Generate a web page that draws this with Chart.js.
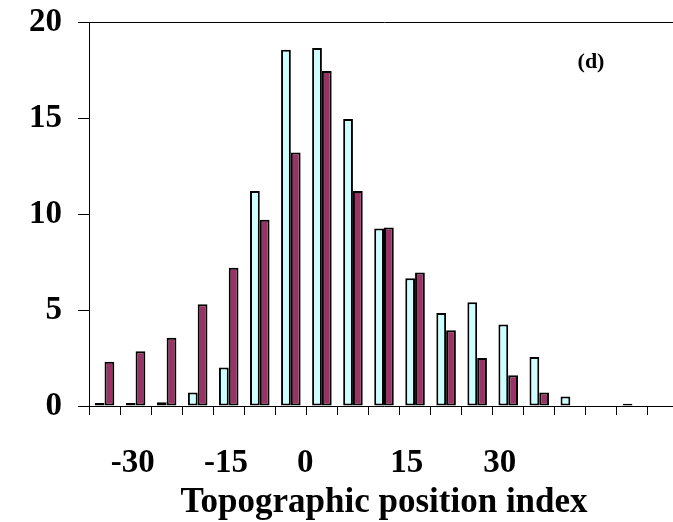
<!DOCTYPE html>
<html>
<head>
<meta charset="utf-8">
<script src="https://cdn.jsdelivr.net/npm/chart.js@4.4.1/dist/chart.umd.min.js"></script>
<style>
    html, body { margin: 0; padding: 0; background: #fff; overflow: hidden; }
    #wrap { width: 700px; height: 522px; }
</style>
</head>
<body>
<div id="wrap"><canvas id="tpiChart" width="700" height="522"></canvas></div>
<script>
// bins of the topographic position index (width 5)
const bins = [-35, -30, -25, -20, -15, -10, -5, 0, 5, 10, 15, 20, 25, 30, 35, 40, 45, 50, 55];
const seriesCyan = [0.15, 0.15, 0.2, 0.7, 2.0, 11.2, 18.55, 18.65, 14.95, 9.25, 6.65, 4.85, 5.4, 4.25, 2.55, 0.5, 0, 0.12, 0];
const seriesMaroon = [2.3, 2.85, 3.55, 5.3, 7.2, 9.7, 13.2, 17.45, 11.2, 9.3, 6.95, 3.95, 2.5, 1.6, 0.7, 0, 0, 0, 0];
const xTickValues = [-30, -15, 0, 15, 30];
const yTicks = [0, 5, 10, 15, 20];

const serif = '"Liberation Serif", "Times New Roman", serif';

// "(d)" panel tag inside the plot
const panelLabel = {
    id: 'panelLabel',
    afterDraw(chart) {
        const { ctx, chartArea } = chart;
        ctx.save();
        ctx.font = 'bold 22px ' + serif;
        ctx.fillStyle = '#000';
        ctx.textAlign = 'center';
        ctx.textBaseline = 'alphabetic';
        ctx.fillText('(d)', chartArea.right - 88, chartArea.top + 46);
        ctx.restore();
    }
};

new Chart(document.getElementById('tpiChart'), {
    type: 'bar',
    data: {
        labels: bins,
        datasets: [{
            data: seriesCyan,
            backgroundColor: '#CCFFFF',
            borderColor: '#000',
            borderWidth: 2,
            borderSkipped: false,
            xAxisID: 'x'
        }, {
            data: seriesMaroon,
            backgroundColor: '#993366',
            borderColor: '#000',
            borderWidth: 2,
            borderSkipped: false,
            xAxisID: 'x'
        }]
    },
    options: {
        responsive: false,
        animation: false,
        layout: { padding: { top: 22, right: 21, left: 0, bottom: 0 } },
        datasets: { bar: { categoryPercentage: 0.63, barPercentage: 1 } },
        plugins: {
            legend: { display: false },
            tooltip: { enabled: false }
        },
        scales: {
            x: {
                type: 'category',
                position: 'bottom',
                weight: 0,
                offset: true,
                grid: {
                    offset: true,
                    drawOnChartArea: false,
                    drawTicks: true,
                    tickLength: 9,
                    color: '#000',
                    tickColor: '#000',
                    lineWidth: 1
                },
                border: { display: true, color: '#000', width: 1 },
                ticks: { display: false },
                afterFit(scale) { scale.height = 10; }
            },
            x2: {
                type: 'linear',
                position: 'bottom',
                weight: 1,
                offset: false,
                bounds: 'data',
                min: -33.5,
                max: 61.5,
                grid: { display: false, drawTicks: false, offset: false },
                border: { display: false },
                afterBuildTicks(scale) {
                    scale.ticks = xTickValues.map(v => ({ value: v }));
                },
                ticks: {
                    autoSkip: false,
                    maxRotation: 0,
                    minRotation: 0,
                    align: 'start',
                    padding: 31,
                    color: '#000',
                    font: { family: serif, size: 33, weight: 'bold', lineHeight: 1 }
                },
                title: {
                    display: true,
                    text: 'Topographic position index',
                    color: '#000',
                    padding: { top: 0, bottom: 2 },
                    font: { family: serif, size: 35, weight: 'bold', lineHeight: 1 }
                },
                afterFit(scale) {
                    scale.height = 106;
                    scale.paddingLeft = 0;
                    scale.paddingRight = 0;
                }
            },
            y: {
                min: 0,
                max: 20,
                afterBuildTicks(scale) {
                    scale.ticks = yTicks.map(v => ({ value: v }));
                },
                grid: {
                    drawOnChartArea: true,
                    drawTicks: true,
                    tickLength: 11,
                    color: ctx => (ctx.tick && ctx.tick.value === 20 ? '#000' : 'rgba(0,0,0,0)'),
                    tickColor: '#000',
                    lineWidth: 1
                },
                border: { display: true, color: '#000', width: 1 },
                ticks: {
                    padding: 16,
                    color: '#000',
                    font: { family: serif, size: 33, weight: 'bold' }
                },
                afterFit(scale) {
                    scale.width = 89;
                    scale.paddingTop = 0;
                    scale.paddingBottom = 0;
                }
            }
        }
    },
    plugins: [panelLabel]
});
</script>
</body>
</html>
